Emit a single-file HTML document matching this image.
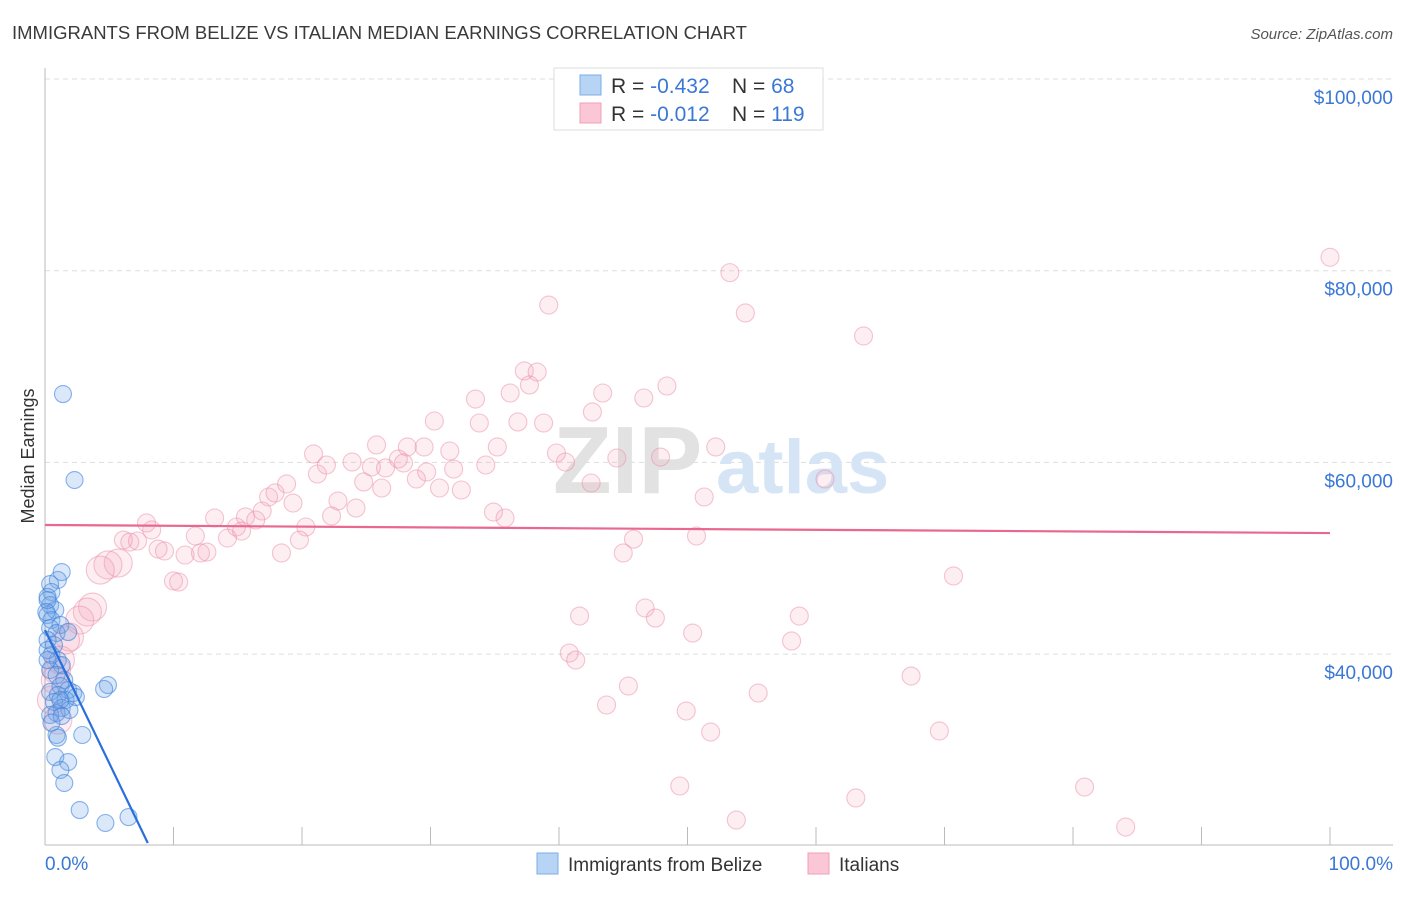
<!DOCTYPE html>
<html><head><meta charset="utf-8">
<style>
body{margin:0;background:#fff;font-family:"Liberation Sans",sans-serif;}
svg text{font-family:"Liberation Sans",sans-serif;}
</style></head>
<body>
<svg id="chart" width="1406" height="892" viewBox="0 0 1406 892">
<text x="12" y="39" font-size="18.5" fill="#3a3a3a">IMMIGRANTS FROM BELIZE VS ITALIAN MEDIAN EARNINGS CORRELATION CHART</text>
<text x="1393" y="39" font-size="15" fill="#555" text-anchor="end" font-style="italic">Source: ZipAtlas.com</text>
<text transform="translate(34,456) rotate(-90)" font-size="18" fill="#333" text-anchor="middle">Median Earnings</text>
<g id="grid"></g>
<g>
<text x="553" y="493" font-size="96" fill="#e2e2e2" font-family="Liberation Serif" font-weight="bold">ZIP</text>
<text x="716" y="493" font-size="76" fill="#d6e5f6" font-weight="bold">atlas</text>
</g>
<g id="pink"></g>
<g id="blue"></g>
<g id="lines"></g>
<g>
<rect x="554" y="68" width="269" height="62" fill="#fff" stroke="#ddd"/>
<rect x="580" y="75" width="21" height="20" fill="#b8d4f5" stroke="#7aaee8"/>
<rect x="580" y="103" width="21" height="20" fill="#fbc6d5" stroke="#f0a0b8"/>
<text x="611" y="93" font-size="21" fill="#333">R = <tspan fill="#3a78d4">-0.432</tspan></text>
<text x="732" y="93" font-size="21" fill="#333">N = <tspan fill="#3a78d4"> 68</tspan></text>
<text x="611" y="121" font-size="21" fill="#333">R = <tspan fill="#3a78d4">-0.012</tspan></text>
<text x="732" y="121" font-size="21" fill="#333">N = <tspan fill="#3a78d4">119</tspan></text>
</g>
<g>
<rect x="537" y="853" width="21" height="21" fill="#b8d4f5" stroke="#7aaee8"/>
<text x="568" y="871" font-size="19" fill="#333">Immigrants from Belize</text>
<rect x="808" y="853" width="21" height="21" fill="#fbc6d5" stroke="#f0a0b8"/>
<text x="839" y="871" font-size="19" fill="#333">Italians</text>
</g>
<text x="45" y="870" font-size="19" fill="#3a78d4">0.0%</text>
<text x="1393" y="870" font-size="19" fill="#3a78d4" text-anchor="end">100.0%</text>
</svg>
<script>
const yTicks=[100000,80000,60000,40000];
const yTickLabels=["$100,000","$80,000","$60,000","$40,000"];
const xTicks=[0,10,20,30,40,50,60,70,80,90,100];
const pinkX=[100,53.3,39.2,54.5,63.7,37.3,38.3,37.7,43.4,48.4,46.6,33.5,36.2,42.6,30.3,33.8,36.8,38.8,25.8,28.2,29.5,31.5,35.2,20.9,23.9,21.9,27.5,27.9,39.8,40.5,44.5,47.9,52.2,34.3,25.4,26.5,29.7,21.2,24.8,28.9,31.8,30.7,32.4,26.2,42.5,60.7,18.8,17.4,17.9,19.3,22.8,24.2,34.9,35.8,22.3,20.3,16.9,15.6,16.4,14.9,15.3,13.2,7.9,8.3,6.1,6.6,7.2,11.7,14.2,19.8,18.4,45.8,45.0,50.7,51.3,8.8,9.3,10.9,12.1,12.6,5.7,4.9,4.3,10.0,10.4,70.7,41.6,46.7,47.5,58.7,50.4,58.1,40.8,41.3,67.4,45.4,55.5,43.7,49.9,51.8,69.6,49.4,63.1,80.9,53.8,84.1,3.7,3.3,2.7,1.9,1.6,1.2,0.9,0.8,0.5,1.0];
const pinkY=[81400,79800,76420,75590,73190,69540,69430,68080,67240,67970,66720,66610,67240,65260,64320,64110,64220,64110,61820,61610,61610,61190,61610,60880,60040,59730,60350,59940,60980,60040,60460,60560,61610,59730,59520,59420,59000,58790,57960,58270,59310,57330,57120,57330,57850,58270,57750,56390,56810,55760,55970,55240,54820,54200,54410,53260,54930,54310,53990,53260,52840,54200,53680,52950,51900,51690,51800,52320,52110,51900,50550,51990,50550,52320,56390,50960,50760,50340,50550,50650,49500,49300,48770,47630,47520,48150,43970,44810,43760,43970,42200,41370,40110,39380,37710,36670,35940,34690,34060,31870,31980,26240,24990,26130,22690,21960,44910,44390,43550,41780,41470,39380,38340,37290,35210,33120];
const blueX=[1.4,2.3,1.3,1.0,0.4,0.5,0.2,0.4,0.8,0.2,0.5,1.2,0.4,0.9,1.8,0.2,0.7,0.5,1.0,1.3,0.4,0.9,1.5,1.2,1.8,0.4,1.0,2.2,1.6,0.7,1.3,1.9,0.9,0.4,1.3,2.4,4.9,4.6,2.9,0.9,0.8,1.8,1.2,1.5,2.7,4.7,6.5,0.2,0.1,0.2,0.2,1.2,0.5,1.0];
const blueY=[67130,58160,48560,47730,47310,46480,45960,45120,44600,44080,43560,43040,42720,42200,42300,41470,40950,39900,39380,38860,38340,37820,37290,36670,36250,36050,35730,35940,35210,35000,34380,34170,33850,33650,33540,35520,36770,36360,31560,31560,29260,28740,27910,26550,23730,22380,23000,45640,44390,40430,39380,35210,32840,31280];
const pinkTrend=[[0,53470],[100,52630]];
const blueTrend=[[0,42510],[8.0,20290]];
const NS="http://www.w3.org/2000/svg";
const xs=p=>45+p*12.85;
const ys=v=>79+(100000-v)/20000*191.7;
function mk(tag,attrs,parent){const e=document.createElementNS(NS,tag);for(const k in attrs)e.setAttribute(k,attrs[k]);parent.appendChild(e);return e;}
const grid=document.getElementById('grid');
yTicks.forEach((v,i)=>{
 const l=mk('line',{x1:45,x2:1393,y1:ys(v),y2:ys(v),stroke:'#ddd','stroke-dasharray':'5,4'},grid);
 
 
 const t=mk('text',{x:1393,y:ys(v)+25,'font-size':19,fill:'#3a78d4','text-anchor':'end'},grid);
 t.textContent=yTickLabels[i];
 
 
});
const ax=mk('line',{x1:45,x2:45,y1:68,y2:845,stroke:'#bbb'},grid);


const bx=mk('line',{x1:45,x2:1393,y1:845,y2:845,stroke:'#bbb'},grid);


xTicks.forEach(p=>{
 const t=mk('line',{x1:xs(p),x2:xs(p),y1:827,y2:845,stroke:'#bbb'},grid);
 
 
});
const pg=document.getElementById('pink');
pinkX.forEach((p,i)=>{
 const c=mk('circle',{cx:xs(p),cy:ys(pinkY[i]),r:p<6?14:9,fill:'rgba(245,160,185,0.18)',stroke:'rgba(235,140,170,0.5)','stroke-width':1.1},pg);
 
 
});
const bg=document.getElementById('blue');
blueX.forEach((p,i)=>{
 const c=mk('circle',{cx:xs(p),cy:ys(blueY[i]),r:8.5,fill:'rgba(110,165,230,0.25)',stroke:'rgba(60,130,220,0.6)','stroke-width':1.1},bg);
 
 
});
const lg=document.getElementById('lines');
const pl=mk('line',{x1:xs(pinkTrend[0][0]),y1:ys(pinkTrend[0][1]),x2:xs(pinkTrend[1][0]),y2:ys(pinkTrend[1][1]),stroke:'#e8688f','stroke-width':2.2},lg);


const bl=mk('line',{x1:xs(blueTrend[0][0]),y1:ys(blueTrend[0][1]),x2:xs(blueTrend[1][0]),y2:ys(blueTrend[1][1]),stroke:'#2a6fdb','stroke-width':2.2},lg);


</script>
</body></html>
